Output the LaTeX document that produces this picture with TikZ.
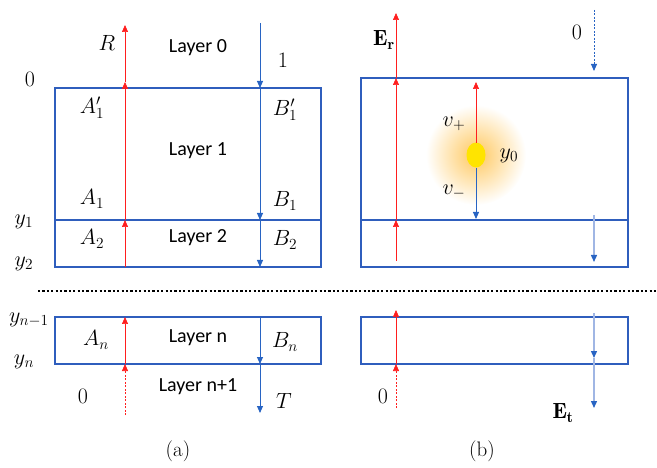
\RequirePackage{fix-cm}
\documentclass[tikz,border=0pt]{standalone}
\usepackage{fontspec}
\usepackage{amsmath}
\usetikzlibrary{arrows.meta}
\newfontfamily\layerfont{Carlito}
\definecolor{rectblue}{RGB}{47,94,189}
\definecolor{arrblue}{RGB}{40,100,195}
\definecolor{lightblue}{RGB}{160,182,228}
\definecolor{arrred}{RGB}{255,30,30}
\definecolor{glow}{RGB}{255,200,95}
\definecolor{srcyellow}{RGB}{255,228,0}
\begin{document}
\begin{tikzpicture}[x=1pt,y=-1pt,
  layerbox/.style={draw=rectblue,line width=1.5pt},
  redarr/.style={draw=arrred,line width=0.7pt,-{Triangle[width=6pt,length=7pt,color=arrred]}},
  bluearr/.style={draw=arrblue,line width=0.9pt,-{Triangle[width=6pt,length=7pt,color=arrblue]}},
  lightarr/.style={draw=lightblue,line width=1.4pt,-{Triangle[width=6pt,length=7pt,color=arrblue]}},
  dashredarr/.style={redarr,dash pattern=on 2pt off 1.5pt},
  dashbluearr/.style={bluearr,dash pattern=on 2pt off 1.5pt},
  lay/.style={font=\layerfont\fontsize{20}{24}\selectfont,inner sep=0pt},
  mth/.style={font=\fontsize{22}{26}\selectfont,inner sep=0pt},
  captxt/.style={font=\fontsize{21}{24}\selectfont,inner sep=0pt}]
\useasboundingbox (0,0) rectangle (657,468);

% source glow (drawn first, under everything)
\shade[inner color=glow,outer color=white] (476,155) circle (50);

% ---------- panel (a) ----------
\draw[layerbox] (55,88) rectangle (321,220);
\draw[layerbox] (55,220) rectangle (321,267);
\draw[layerbox] (55,317) rectangle (321,364);

\coordinate (ra0) at (125,267);
\coordinate (ra1) at (125,220);
\coordinate (ra2) at (125,82);
\coordinate (ra3) at (125,25);
\coordinate (ran0) at (125,415);
\coordinate (ran1) at (125,364);
\coordinate (ran2) at (125,317);
\draw[redarr] (ra0) -- (ra1);
\draw[redarr] (ra1) -- (ra2);
\draw[redarr] (ra2) -- (ra3);
\draw[dashredarr] (ran0) -- (ran1);
\draw[redarr] (ran1) -- (ran2);

\coordinate (ba0) at (260,23);
\coordinate (ba1) at (260,88);
\coordinate (ba2) at (260,220);
\coordinate (ba3) at (260,267);
\coordinate (ban0) at (260,317);
\coordinate (ban1) at (260,364);
\coordinate (ban2) at (260,413);
\draw[bluearr] (ba0) -- (ba1);
\draw[bluearr] (ba1) -- (ba2);
\draw[bluearr] (ba2) -- (ba3);
\draw[bluearr] (ban0) -- (ban1);
\draw[bluearr] (ban1) -- (ban2);

\node[mth] (R) at (107,43) {$R$};
\node[lay] (L0) at (198,48) {Layer 0};
\node[mth] (one) at (283,60) {$1$};
\node[mth] (zeroa) at (30,79) {$0$};
\node[mth] (A1p) at (92,108) {$A_1'$};
\node[mth] (B1p) at (285,110) {$B_1'$};
\node[lay] (L1) at (198,151) {Layer 1};
\node[mth] (A1) at (92,199) {$A_1$};
\node[mth] (B1) at (285,201) {$B_1$};
\node[mth] (y1) at (24,222) {$y_1$};
\node[mth] (A2) at (92,239) {$A_2$};
\node[lay] (L2) at (198,238) {Layer 2};
\node[mth] (B2) at (285,240) {$B_2$};
\node[mth] (y2) at (24,264) {$y_2$};
\node[mth] (yn1) at (29,320) {$y_{n-1}$};
\node[mth] (An) at (96,340) {$A_n$};
\node[lay] (Ln) at (198,338) {Layer n};
\node[mth] (Bn) at (285,342) {$B_n$};
\node[mth] (yn) at (24,362) {$y_n$};
\node[mth] (zerob) at (83,396) {$0$};
\node[lay] (Ln1) at (198,387) {Layer n+1};
\node[mth] (T) at (284,401) {$T$};
\node[captxt] (capa) at (178,451) {(a)};

% ---------- dotted separator ----------
\coordinate (dl) at (38,291);
\coordinate (dr) at (657,291);
\draw[line width=2.2pt,dash pattern=on 2.2pt off 2.2pt] (dl) -- (dr);

% ---------- panel (b) ----------
\draw[layerbox] (361,78) rectangle (628,220);
\draw[layerbox] (361,220) rectangle (628,267);
\draw[layerbox] (361,317) rectangle (628,364);

\fill[srcyellow] (476,155) ellipse (9.5 and 12.5);
\coordinate (src) at (476,155);
\coordinate (srcup) at (476,143);
\coordinate (srcdn) at (476,168);
\coordinate (vp) at (476,82);
\coordinate (vm) at (476,219);
\draw[redarr] (srcup) -- (vp);
\draw[bluearr] (srcdn) -- (vm);

\coordinate (rb0) at (396,261);
\coordinate (rb1) at (396,220);
\coordinate (rb2) at (396,78);
\coordinate (rb3) at (396,13);
\coordinate (rbn0) at (396,408);
\coordinate (rbn1) at (396,364);
\coordinate (rbn2) at (396,310);
\draw[redarr] (rb0) -- (rb1);
\draw[redarr] (rb1) -- (rb2);
\draw[redarr] (rb2) -- (rb3);
\draw[dashredarr] (rbn0) -- (rbn1);
\draw[redarr] (rbn1) -- (rbn2);

\coordinate (bb0) at (594,10);
\coordinate (bb1) at (594,71);
\coordinate (bb2) at (594,215);
\coordinate (bb3) at (594,262);
\coordinate (bbn0) at (594,313);
\coordinate (bbn1) at (594,358);
\coordinate (bbn2) at (594,408);
\draw[dashbluearr] (bb0) -- (bb1);
\draw[lightarr] (bb2) -- (bb3);
\draw[lightarr] (bbn0) -- (bbn1);
\draw[lightarr] (bbn1) -- (bbn2);

\node[mth] (Er) at (384,40) {$\mathbf{E_r}$};
\node[mth] (zeroc) at (577,32) {$0$};
\node[mth] (vplus) at (454,124) {$v_+$};
\node[mth] (y0) at (509,156) {$y_0$};
\node[mth] (vminus) at (454,192) {$v_-$};
\node[mth] (zerod) at (383,396) {$0$};
\node[mth] (Et) at (563,413) {$\mathbf{E_t}$};
\node[captxt] (capb) at (482,451) {(b)};
\end{tikzpicture}
\end{document}
